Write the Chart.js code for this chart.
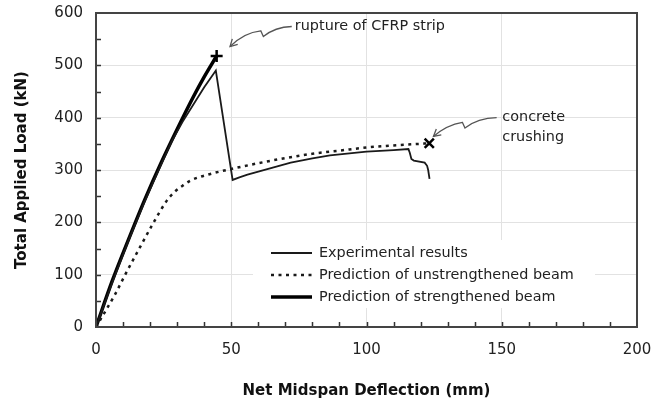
<!DOCTYPE html>
<html>
<head>
<meta charset="utf-8">
<script src="https://cdn.jsdelivr.net/npm/chart.js@4.4.0/dist/chart.umd.min.js"></script>
<style>
  body { margin: 0; background: #fff; }
  #wrap { width: 657px; height: 410px; }
</style>
</head>
<body>
<div id="wrap"><canvas id="myChart" width="657" height="410"></canvas></div>
<script>
// Net midspan deflection (mm) vs total applied load (kN)

// Experimental results
const expX = [0, 6, 12, 18, 24, 28, 32, 36, 40, 44.3, 50.5, 53, 56, 60, 65, 72, 80, 86.5, 100, 110, 115.5, 116, 116.6, 117.5, 121.5, 122.4, 122.8, 123.3];
const expY = [0, 85, 165, 240, 310, 355, 392, 425, 458, 490, 281, 286, 291, 297, 304, 314, 322, 328, 335, 338, 340, 333, 321, 318, 314, 308, 300, 283];

// Prediction of unstrengthened beam
const unsX = [0, 7, 11, 16, 21, 26, 29, 32, 35, 42, 50, 60, 67, 80, 90, 100, 110, 123.2];
const unsY = [0, 62, 102, 150, 197, 240, 258, 270, 280, 292, 302, 313, 320, 331, 337, 343, 347, 351];

// Prediction of strengthened beam
const strX = [0, 6, 12, 18, 24, 30, 36, 40, 44.6];
const strY = [0, 88, 167, 243, 313, 378, 440, 478, 518];

// failure points
const ruptureX = [44.6];
const ruptureY = [518];
const crushX = [123.2];
const crushY = [351];

const xTicks = [0, 50, 100, 150, 200];
const yTicks = [0, 100, 200, 300, 400, 500, 600];

const legendLabels = ["Experimental results", "Prediction of unstrengthened beam", "Prediction of strengthened beam"];

// note text, placed in data units
const ruptureNote = { x: 73.5, y: 574, lines: ["rupture of CFRP strip"] };
const crushNote = { x: 150.2, y: 400, lines: ["concrete", "crushing"] };

function pts(xs, ys) {
  return xs.map(function (x, i) { return { x: x, y: ys[i] }; });
}

Chart.defaults.font.family = "'DejaVu Sans', sans-serif";
Chart.defaults.color = "#222";

function gridColor(c) {
  let v = c.tick.value;
  if (c.scale.axis === "x") return (v > 0 && v < 200) ? "#e2e2e2" : "rgba(0,0,0,0)";
  return (v > 0 && v < 600) ? "#e2e2e2" : "rgba(0,0,0,0)";
}

function noPad(s) {
  s.paddingTop = 0;
  s.paddingBottom = 0;
  s.paddingLeft = 0;
  s.paddingRight = 0;
}

function drawArrow(ctx, tip, p) {
  // p: offsets from tip -> start, ctrl, zig1, zig2, ctrl2
  ctx.save();
  ctx.strokeStyle = "#555";
  ctx.lineWidth = 1.3;
  ctx.beginPath();
  ctx.moveTo(tip.x + p[0][0], tip.y + p[0][1]);
  ctx.quadraticCurveTo(tip.x + p[1][0], tip.y + p[1][1], tip.x + p[2][0], tip.y + p[2][1]);
  ctx.lineTo(tip.x + p[3][0], tip.y + p[3][1]);
  ctx.quadraticCurveTo(tip.x + p[4][0], tip.y + p[4][1], tip.x, tip.y);
  ctx.stroke();
  let ang = Math.atan2(p[4][1], p[4][0]);
  ctx.beginPath();
  ctx.moveTo(tip.x + 8 * Math.cos(ang - 0.5), tip.y + 8 * Math.sin(ang - 0.5));
  ctx.lineTo(tip.x, tip.y);
  ctx.lineTo(tip.x + 8 * Math.cos(ang + 0.5), tip.y + 8 * Math.sin(ang + 0.5));
  ctx.stroke();
  ctx.restore();
}

const extras = {
  id: "extras",
  afterDatasetsDraw: function (chart) {
    const ctx = chart.ctx;
    const a = chart.chartArea;
    const xs = chart.scales.x;
    const ys = chart.scales.y;

    // inward minor ticks
    ctx.save();
    ctx.strokeStyle = "#333";
    ctx.lineWidth = 1.5;
    ctx.beginPath();
    for (let v = 10; v < 200; v += 10) {
      let px = Math.round(xs.getPixelForValue(v)) + 0.5;
      ctx.moveTo(px, a.bottom);
      ctx.lineTo(px, a.bottom - 5);
    }
    for (let v = 50; v < 600; v += 50) {
      let py = Math.round(ys.getPixelForValue(v)) + 0.5;
      ctx.moveTo(a.left, py);
      ctx.lineTo(a.left + 5, py);
    }
    ctx.stroke();

    // frame
    ctx.strokeStyle = "#444";
    ctx.lineWidth = 2;
    ctx.strokeRect(a.left, a.top, a.right - a.left, a.bottom - a.top);
    ctx.restore();

    // legend
    ctx.save();
    let lx = a.left + 157, ly = a.top + 227;
    ctx.fillStyle = "#fff";
    ctx.fillRect(lx, ly, 342, 68);
    ctx.font = "14.4px 'DejaVu Sans'";
    ctx.textBaseline = "middle";
    legendLabels.forEach(function (t, i) {
      let ds = chart.data.datasets[i];
      let y = ly + 13 + i * 22;
      ctx.strokeStyle = ds.borderColor;
      ctx.lineWidth = ds.borderWidth;
      ctx.setLineDash(ds.borderDash || []);
      ctx.beginPath();
      ctx.moveTo(lx + 18, y);
      ctx.lineTo(lx + 59, y);
      ctx.stroke();
      ctx.setLineDash([]);
      ctx.fillStyle = "#222";
      ctx.fillText(t, lx + 66, y);
    });
    ctx.restore();

    // notes
    ctx.save();
    ctx.font = "14.4px 'DejaVu Sans'";
    ctx.fillStyle = "#222";
    ctx.textBaseline = "middle";
    [ruptureNote, crushNote].forEach(function (n) {
      n.lines.forEach(function (t, i) {
        ctx.fillText(t, xs.getPixelForValue(n.x), ys.getPixelForValue(n.y) + i * 20);
      });
    });
    ctx.restore();

    let r = { x: xs.getPixelForValue(ruptureX[0]) + 13.4, y: ys.getPixelForValue(ruptureY[0]) - 9.4 };
    drawArrow(ctx, r, [[61.7, -20], [45, -19.5], [33.3, -10], [30.7, -15.7], [14, -14]]);
    let c = { x: xs.getPixelForValue(crushX[0]) + 4.2, y: ys.getPixelForValue(crushY[0]) - 6.9 };
    drawArrow(ctx, c, [[63.2, -18.8], [44.5, -18.5], [31.5, -8.5], [29, -14], [13.5, -11.5]]);
  }
};

var ctx = document.getElementById("myChart").getContext("2d");

var chart = new Chart(ctx, {
  type: "line",
  data: {
    datasets: [
      {
        label: legendLabels[0],
        data: pts(expX, expY),
        borderColor: "#1a1a1a",
        borderWidth: 1.8,
        tension: 0,
        pointRadius: 0,
      },
      {
        label: legendLabels[1],
        data: pts(unsX, unsY),
        borderColor: "#1a1a1a",
        borderWidth: 2.5,
        borderDash: [3, 4.5],
        cubicInterpolationMode: "monotone",
        pointRadius: 0,
      },
      {
        label: legendLabels[2],
        data: pts(strX, strY),
        borderColor: "#000",
        borderWidth: 3.5,
        cubicInterpolationMode: "monotone",
        pointRadius: 0,
      },
      {
        label: "rupture",
        data: pts(ruptureX, ruptureY),
        showLine: false,
        pointStyle: "cross",
        pointRadius: 6,
        pointBorderWidth: 2.5,
        pointBorderColor: "#000",
      },
      {
        label: "crushing",
        data: pts(crushX, crushY),
        showLine: false,
        pointStyle: "crossRot",
        pointRadius: 6.5,
        pointBorderWidth: 2.5,
        pointBorderColor: "#000",
      },
    ],
  },
  options: {
    responsive: false,
    animation: false,
    layout: { padding: { left: 0, right: 20, top: 13, bottom: 0 } },
    plugins: { legend: { display: false }, tooltip: { enabled: false } },
    scales: {
      x: {
        type: "linear",
        min: 0,
        max: 200,
        afterBuildTicks: function (s) { s.ticks = xTicks.map(function (v) { return { value: v }; }); },
        afterFit: function (s) { s.height = 83; noPad(s); },
        ticks: { font: { size: 15 }, padding: 14, color: "#222" },
        grid: { color: gridColor, lineWidth: 1, drawTicks: false },
        border: { display: false },
        title: {
          display: true,
          text: "Net Midspan Deflection (mm)",
          font: { size: 15, weight: "bold" },
          color: "#111",
          padding: { top: 0, bottom: 10 },
        },
      },
      y: {
        type: "linear",
        min: 0,
        max: 600,
        afterBuildTicks: function (s) { s.ticks = yTicks.map(function (v) { return { value: v }; }); },
        afterFit: function (s) { s.width = 96; noPad(s); },
        ticks: { font: { size: 15 }, padding: 13, color: "#222" },
        grid: { color: gridColor, lineWidth: 1, drawTicks: false },
        border: { display: false },
        title: {
          display: true,
          text: "Total Applied Load (kN)",
          font: { size: 15, weight: "bold" },
          color: "#111",
          padding: { top: 13, bottom: 0 },
        },
      },
    },
  },
  plugins: [extras],
});
</script>
</body>
</html>
